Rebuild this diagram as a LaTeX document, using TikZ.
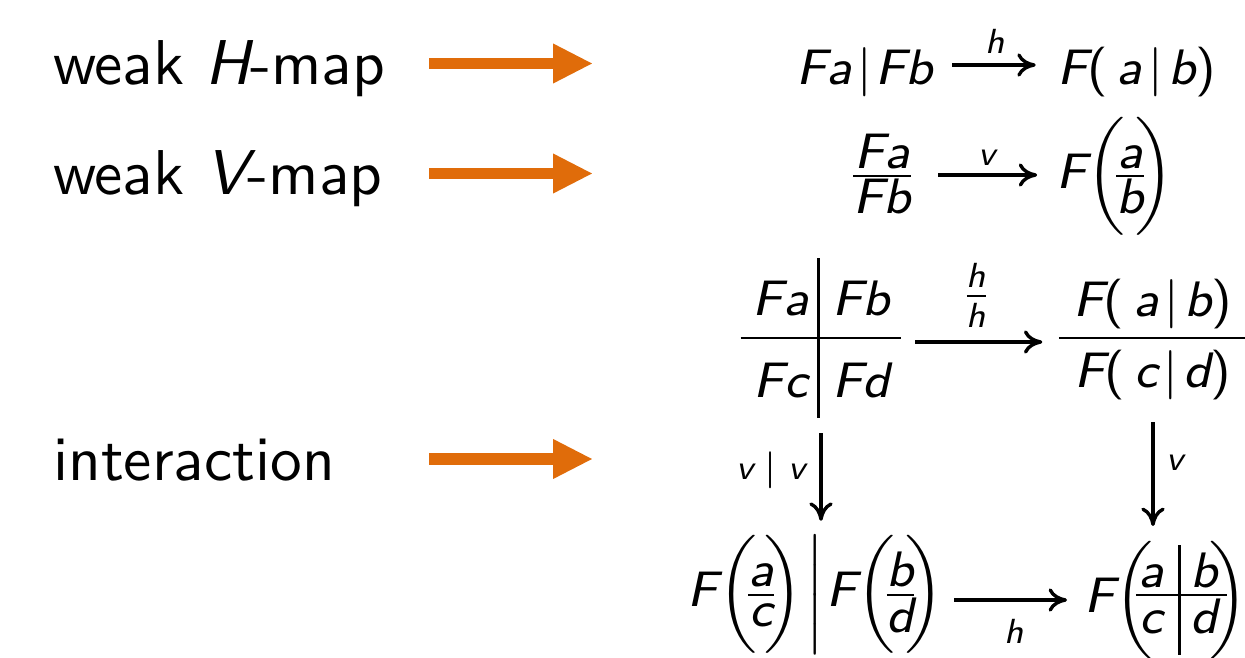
\documentclass[tikz,border=0pt]{standalone}
\usepackage{amsmath}
\SetSymbolFont{letters}{normal}{TU}{lmss}{m}{sl}
\SetSymbolFont{operators}{normal}{TU}{lmss}{m}{n}
\usetikzlibrary{arrows.meta}
\definecolor{borange}{RGB}{224,108,10}
\renewcommand{\arraystretch}{0}
\newcommand{\tf}[2]{{\textstyle\frac{\textstyle #1}{\textstyle #2}}}
\newcommand{\pfrac}[2]{\biggl(\kern-2.6pt\tf{#1}{#2}\kern-2.6pt\biggr)}
\tikzset{
  txt/.style={font=\fontsize{10.3}{12}\selectfont\sffamily, inner sep=0pt},
  mth/.style={font=\fontsize{8.1}{10}\selectfont, inner sep=0pt},
  lbl/.style={font=\fontsize{8.1}{10}\selectfont, inner sep=0pt},
  cmarr/.style={line width=0.55pt, -{Computer Modern Rightarrow[length=3pt,width=3.8pt]}},
  orarr/.style={draw=borange, line width=1.8pt, -{Triangle[length=6.5pt,width=6pt]}}
}
\begin{document}
\begin{tikzpicture}[x=0.1626pt,y=-0.1626pt]
\useasboundingbox (0,0) rectangle (1245,658);

% left texts
\node[txt, anchor=base west] (t1) at (52,85) {weak $H$-map};
\node[txt, anchor=base west] (t2) at (52,195) {weak $V$-map};
\node[txt, anchor=base west] (t3) at (52,481) {interaction};

% orange arrows
\coordinate (o1a) at (429,63.5); \coordinate (o1b) at (593,63.5);
\coordinate (o2a) at (429,173.5); \coordinate (o2b) at (593,173.5);
\coordinate (o3a) at (429,459); \coordinate (o3b) at (593,459);
\draw[orarr] (o1a) -- (o1b);
\draw[orarr] (o2a) -- (o2b);
\draw[orarr] (o3a) -- (o3b);

% row 1
\node[mth, anchor=base west] (r1l) at (795,85) {$Fa\mkern2mu|\mkern1mu Fb$};
\node[mth, anchor=base west] (r1r) at (1056,85) {$F(\,a\mkern2mu|\mkern2mu b)$};
\coordinate (y1) at (0,65);
\draw[cmarr, shorten <=3pt, shorten >=3.3pt] (r1l.east |- y1) -- node[lbl, above=1.6pt]{$\scriptstyle h$} (r1r.west |- y1);

% row 2
\node[mth, anchor=base] (r2l) at (882,188.3) {$\tf{Fa}{Fb}$};
\node[mth, anchor=base west] (r2r) at (1055,188.3) {$F\pfrac{a}{b}$};
\coordinate (y2) at (0,175);
\draw[cmarr, shorten <=3.1pt, shorten >=2.9pt] (r2l.east |- y2) -- node[lbl, above=1.3pt]{$\scriptstyle v$} (r2r.west |- y2);

% interaction square
\node[mth, anchor=base] (tl) at (821,350.3) {$\begin{array}{@{\hspace{2pt}}c@{\hspace{1.6pt}}|@{\hspace{2pt}}c@{\hspace{1.9pt}}}\rule[-3.4pt]{0pt}{12.8pt}Fa & Fb\\ \hline \rule[-3.4pt]{0pt}{12.8pt}Fc & Fd\end{array}$};
\node[mth, anchor=base] (tr) at (1153,350.3) {$\dfrac{\;F(\,a\mkern2mu|\mkern2mu b)\;}{\;F(\,c\mkern2mu|\mkern2mu d)\;}$};
\node[mth, anchor=base] (bl) at (816,607) {$F\pfrac{a}{c}\mkern1mu\bigg|\mkern1mu F\pfrac{b}{d}$};
\node[mth, anchor=base west] (br) at (1083,612.2) {$F\biggl(\kern-2.8pt\begin{array}{@{\hspace{0.5pt}}c@{\hspace{2.5pt}}|@{\hspace{1.5pt}}c@{\hspace{1.5pt}}}\rule[-1pt]{0pt}{7.95pt}a & b\\ \hline \rule[-3.55pt]{0pt}{9.55pt}c & d\end{array}\kern-2.8pt\biggr)$};

\coordinate (y3) at (0,342);
\coordinate (y4) at (0,600);
\draw[cmarr, shorten <=2.1pt, shorten >=1.3pt] (tl.east |- y3) -- node[lbl, above=2.1pt]{$\frac{h}{h}$} (tr.west |- y3);
\draw[cmarr, shorten <=2.3pt, shorten >=2.1pt] (tl.south) -- node[lbl, left=2.3pt, pos=0.45]{$\scriptstyle v\mkern4mu|\mkern4mu v$} (tl.south |- bl.north);
\draw[cmarr, shorten <=3.5pt, shorten >=2.1pt] (tr.south) -- node[lbl, right=2pt, pos=0.45]{$\scriptstyle v$} (tr.south |- br.north);
\draw[cmarr, shorten <=1.5pt, shorten >=2.6pt] (bl.east |- y4) -- node[lbl, below=2.8pt]{$\scriptstyle h$} (br.west |- y4);
\end{tikzpicture}
\end{document}
